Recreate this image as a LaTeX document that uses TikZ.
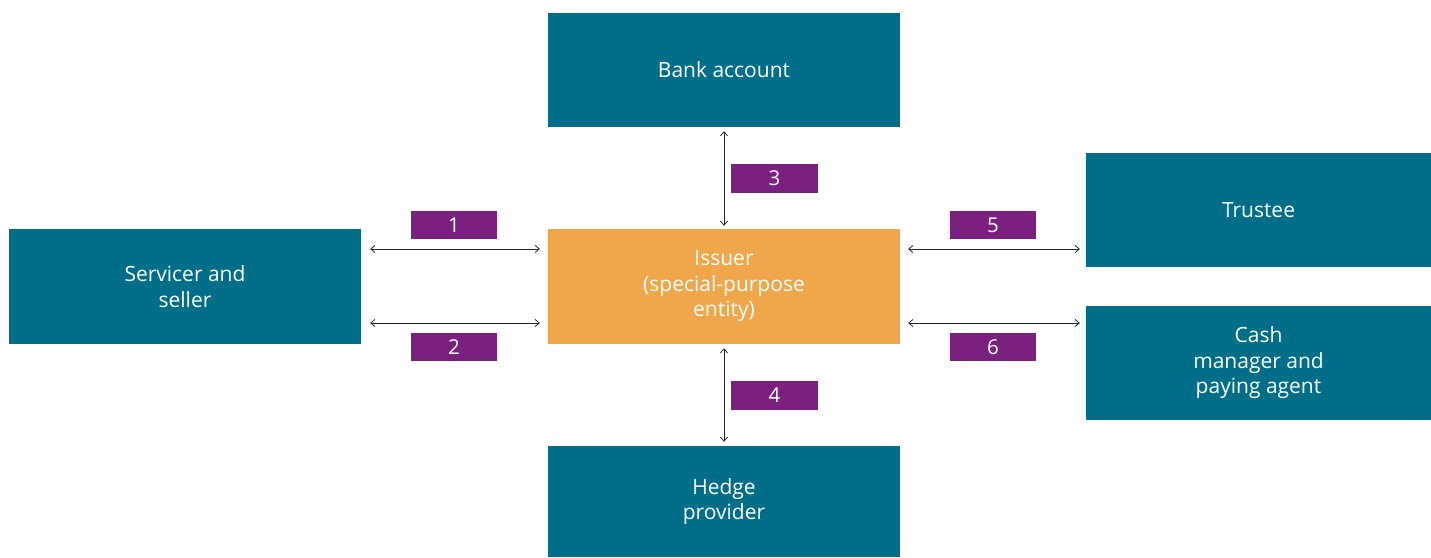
\documentclass[tikz,border=0pt]{standalone}
\usepackage{fontspec}
\setmainfont{Open Sans}
\usetikzlibrary{arrows.meta}
\definecolor{teal}{HTML}{006E88}
\definecolor{issuer}{HTML}{F0A64B}
\definecolor{tag}{HTML}{7A2180}
\tikzset{
  box/.style={rectangle, inner sep=0pt, text=white, align=center,
    font=\fontsize{21}{25.5}\selectfont},
  party/.style={box, fill=teal},
  tagbox/.style={rectangle, fill=tag, text=white, inner sep=0pt,
    font=\fontsize{20.5}{22}\selectfont},
  link/.style={draw=black!85, line width=0.8pt,
    {Straight Barb[length=4pt,width=7pt]}-{Straight Barb[length=4pt,width=7pt]}}
}
\begin{document}
\begin{tikzpicture}[x=1pt,y=-1pt]
\useasboundingbox (0,0) rectangle (1431,557);
% parties
\node[party, minimum width=352pt, minimum height=114pt] (bank) at (724,70) {Bank account};
\node[party, minimum width=352pt, minimum height=115pt] (serv) at (185,286.5) {Servicer and\\seller};
\node[box, fill=issuer, minimum width=352pt, minimum height=115pt] (iss) at (724,286.5) {Issuer\\(special-purpose\\entity)};
\node[party, minimum width=345pt, minimum height=114pt] (trus) at (1258.5,210) {Trustee};
\node[party, minimum width=345pt, minimum height=114pt] (cash) at (1258.5,363) {Cash\\manager and\\paying agent};
\node[party, minimum width=352pt, minimum height=111pt] (hedge) at (724,501.5) {Hedge\\provider};
% connector end points
\coordinate (l1a) at ([shift={(9pt,0)}]serv.east |- 0,249);
\coordinate (l1b) at ([shift={(-8pt,0)}]iss.west |- 0,249);
\coordinate (l2a) at ([shift={(9pt,0)}]serv.east |- 0,323);
\coordinate (l2b) at ([shift={(-8pt,0)}]iss.west |- 0,323);
\coordinate (r5a) at ([shift={(8pt,0)}]iss.east |- 0,249);
\coordinate (r5b) at ([shift={(-6pt,0)}]trus.west |- 0,249);
\coordinate (r6a) at ([shift={(8pt,0)}]iss.east |- 0,323);
\coordinate (r6b) at ([shift={(-6pt,0)}]cash.west |- 0,323);
\draw[link] (l1a) -- (l1b);
\draw[link] (l2a) -- (l2b);
\draw[link] (r5a) -- (r5b);
\draw[link] (r6a) -- (r6b);
\draw[link] ([yshift=-4pt]bank.south) -- ([yshift=3pt]iss.north);
\draw[link] ([yshift=-4pt]iss.south) -- ([yshift=4pt]hedge.north);
% step numbers
\node[tagbox, minimum width=86pt, minimum height=28pt] (t1) at (454,225) {1};
\node[tagbox, minimum width=86pt, minimum height=28pt] (t2) at (454,347) {2};
\node[tagbox, minimum width=87pt, minimum height=29pt] (t3) at (774.5,178.5) {3};
\node[tagbox, minimum width=87pt, minimum height=29pt] (t4) at (774.5,395.5) {4};
\node[tagbox, minimum width=86pt, minimum height=28pt] (t5) at (993,225) {5};
\node[tagbox, minimum width=86pt, minimum height=28pt] (t6) at (993,347) {6};
\end{tikzpicture}
\end{document}
